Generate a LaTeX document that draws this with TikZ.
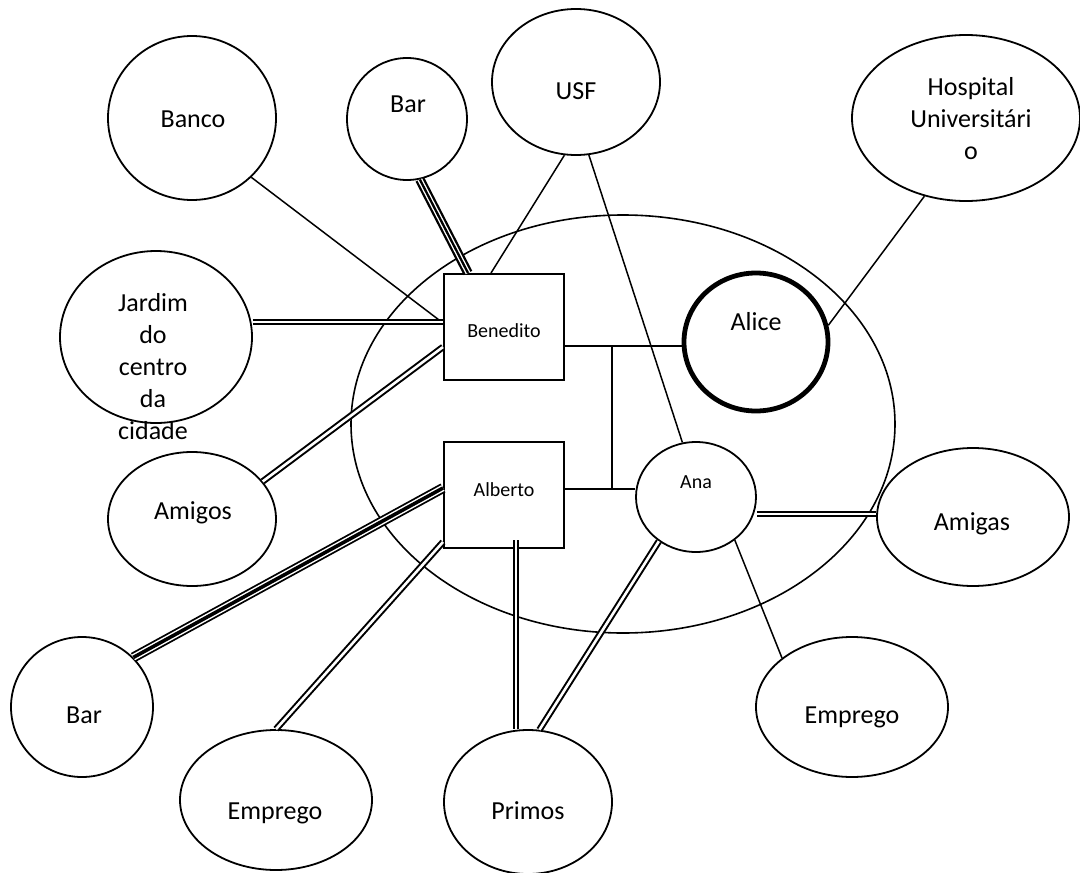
\documentclass[tikz,border=0pt]{standalone}
\usepackage{fontspec}
\setmainfont{Carlito}
\usetikzlibrary{shapes.geometric,calc}
\begin{document}
\begin{tikzpicture}[x=1pt,y=-1pt,
  circ/.style={draw, ellipse, line width=1.8pt, inner sep=0pt},
  lbl/.style={font=\fontsize{26}{31.7}\selectfont, anchor=base, inner sep=0pt},
  slbl/.style={font=\fontsize{20}{24}\selectfont, anchor=base, inner sep=0pt},
  person/.style={draw, rectangle, line width=2pt, inner sep=0pt, minimum width=120pt, minimum height=106pt},
  thinl/.style={line width=1.5pt},
  dbl/.style={double, double distance=2.6pt, line width=2pt},
  triout/.style={double, double distance=5pt, line width=2.3pt},
  trimid/.style={line width=2.3pt},
  triouttwo/.style={double, double distance=6.5pt, line width=1.8pt},
  trimidtwo/.style={line width=3.6pt},
]
\useasboundingbox (0,0) rectangle (1080,873);
% family ellipse
\node[draw, ellipse, line width=1.6pt, inner sep=0pt, minimum width=544pt, minimum height=418pt] (family) at (623,424) {};
% surrounding ellipses
\node[circ, minimum width=168pt, minimum height=164pt] (banco) at (192,118) {};
\node[circ, minimum width=120pt, minimum height=122pt] (bar1) at (407,119) {};
\node[circ, minimum width=168pt, minimum height=146pt] (usf) at (576,82) {};
\node[circ, minimum width=228pt, minimum height=166pt] (hosp) at (966,118) {};
\node[circ, minimum width=192pt, minimum height=172pt] (jardim) at (156,337) {};
\node[circ, minimum width=168pt, minimum height=134pt] (amigos) at (192,519) {};
\node[circ, minimum width=142pt, minimum height=140pt] (bar2) at (82,707) {};
\node[circ, minimum width=192pt, minimum height=140pt] (emp1) at (276,800) {};
\node[circ, minimum width=168pt, minimum height=144pt] (primos) at (528,802) {};
\node[circ, minimum width=192pt, minimum height=140pt] (emp2) at (852,707) {};
\node[circ, minimum width=192pt, minimum height=138pt] (amigas) at (973,517) {};
\node[circ, line width=4.8pt, minimum width=144pt, minimum height=138pt] (alice) at (756,342) {};
\node[circ, minimum width=120pt, minimum height=110pt] (ana) at (696,497) {};
% persons
\node[person] (bened) at (504,327) {};
\node[person] (alberto) at (504,495) {};
% labels
\node[lbl] (banco-t) at (193,127) {Banco};
\node[lbl] (bar1-t) at (408,112) {Bar};
\node[lbl] (usf-t) at (576,99) {USF};
\node[lbl] (hosp-t1) at (971,95) {Hospital};
\node[lbl] (hosp-t2) at (971,127) {Universitári};
\node[lbl] (hosp-t3) at (971,159) {o};
\node[lbl] (jardim-t1) at (153,311) {Jardim};
\node[lbl] (jardim-t2) at (153,343) {do};
\node[lbl] (jardim-t3) at (153,375) {centro};
\node[lbl] (jardim-t4) at (153,407) {da};
\node[lbl] (jardim-t5) at (153,439) {cidade};
\node[lbl] (amigos-t) at (193,519) {Amigos};
\node[lbl] (bar2-t) at (84,723) {Bar};
\node[lbl] (emp1-t) at (275,819) {Emprego};
\node[lbl] (primos-t) at (528,819) {Primos};
\node[lbl] (emp2-t) at (852,723) {Emprego};
\node[lbl] (amigas-t) at (972,530) {Amigas};
\node[lbl] (alice-t) at (756,330) {Alice};
\node[slbl] (ana-t) at (696,488) {Ana};
\node[slbl] (bened-t) at (504,337) {Benedito};
\node[slbl] (alberto-t) at (504,496) {Alberto};
% connectors
\draw[thinl] (banco.-45) -- ($(bened.west)+(0,-4)$);
\draw[triout] (bar1.-78) -- ($(bened.north)+(-36,0)$);
\draw[trimid] (bar1.-78) -- ($(bened.north)+(-36,0)$);
\draw[thinl] (usf.-99) -- ($(bened.north)+(-13,0)$);
\draw[thinl] (usf.-80) -- (ana.104);
\draw[thinl] (hosp.-118) -- (alice.13);
\coordinate (jb) at ($(bened.west)+(0,-5)$);
\draw[dbl] (jb -| jardim.east) -- (jb);
\draw[dbl] (amigos.28) -- ($(bened.west)+(0,20)$);
\draw[triouttwo] (bar2.44) -- ($(alberto.west)+(0,-7)$);
\draw[trimidtwo] (bar2.44) -- ($(alberto.west)+(0,-7)$);
\draw[dbl] (emp1.north) -- ($(alberto.south west)+(0,-7)$);
\coordinate (ap) at ($(alberto.south)+(12,-9)$);
\draw[dbl] (ap) -- (ap |- primos.north);
\draw[dbl] (ana.-130) -- (primos.81);
\draw[dbl] ($(ana.east)+(0,17)$) -- ($(amigas.west)+(0,-3)$);
\draw[thinl] (ana.-48) -- (emp2.145);
% family lines
\coordinate (bd) at ($(bened.east)+(0,19)$);
\coordinate (ab) at ($(alberto.east)+(0,-6)$);
\coordinate (fx) at (612,400);
\draw[thinl] (bd) -- (bd -| alice.west);
\draw[thinl] (ab) -- (ab -| ana.west);
\draw[thinl] (bd -| fx) -- (ab -| fx);
\end{tikzpicture}
\end{document}
